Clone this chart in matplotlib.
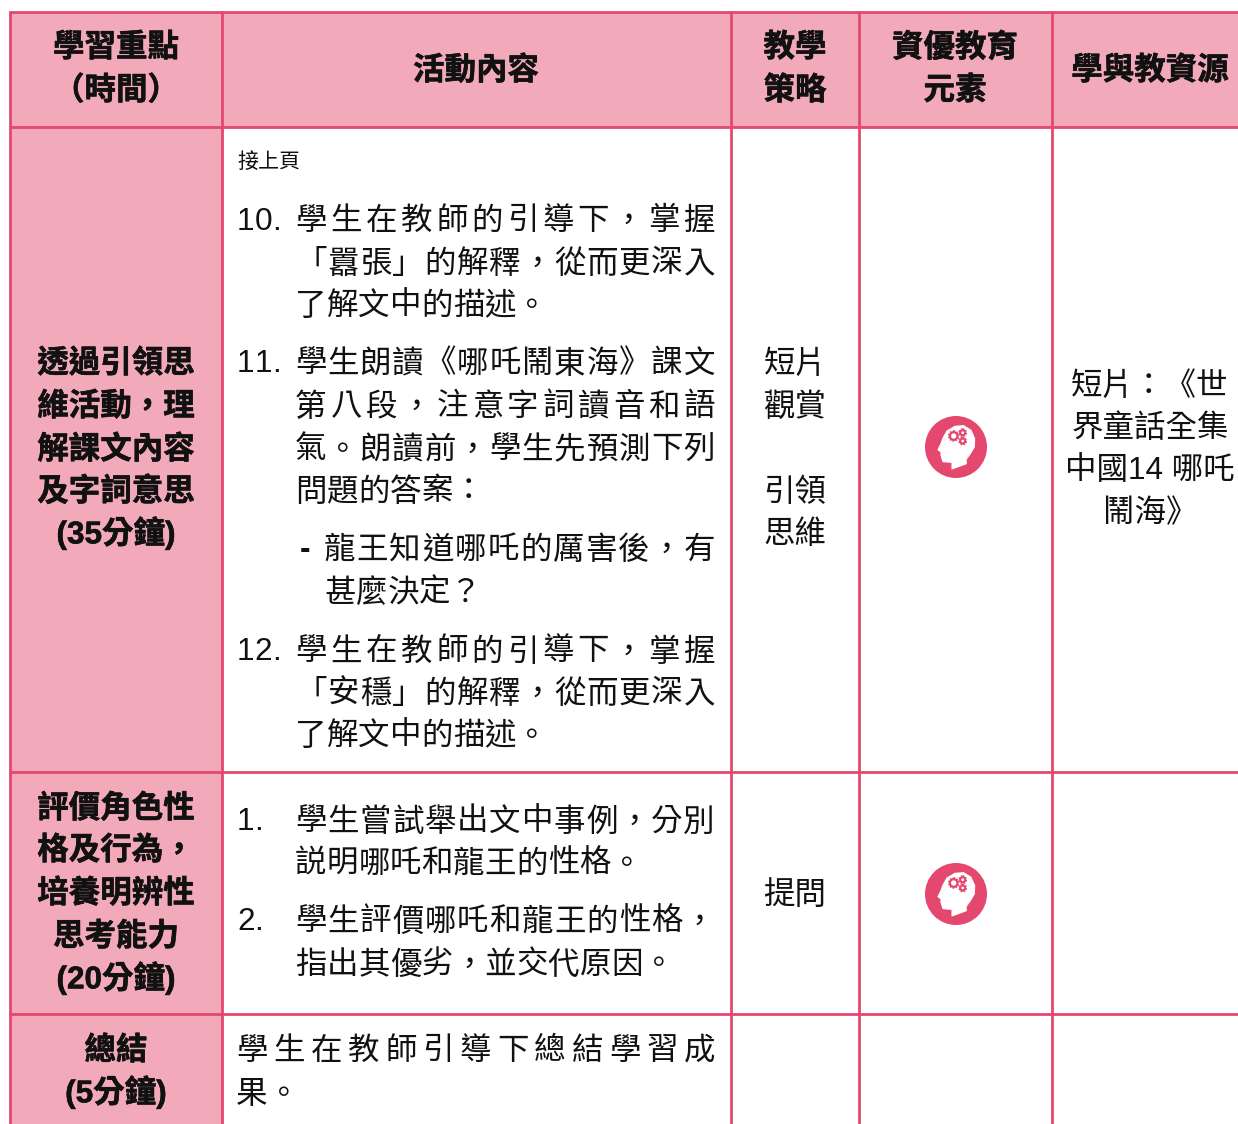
import matplotlib
matplotlib.use("Agg")
import numpy as np
import matplotlib.pyplot as plt
import matplotlib.patheffects as pe
from matplotlib.patches import Circle, Polygon, Rectangle

W, H = 1238, 1124
PINK = "#E5486E"
FILL = "#F2A9BA"
INK = "#111111"
FONT = ["Liberation Sans", "Noto Sans CJK TC"]
BODY_PX = 31.5
ADVANCE = 31.6
DIGIT = 17.6
DY = 3.5  # va=center sits a little high for this font

# table content
column_headers = [["學習重點", "（時間）"], ["活動內容"], ["教學", "策略"], ["資優教育", "元素"], ["學與教資源"]]
topic_1 = ["透過引領思", "維活動，理", "解課文內容", "及字詞意思", "(35分鐘)"]
topic_2 = ["評價角色性", "格及行為，", "培養明辨性", "思考能力", "(20分鐘)"]
topic_3 = ["總結", "(5分鐘)"]
continued_note = "接上頁"
step_10 = ["學生在教師的引導下，掌握", "「囂張」的解釋，從而更深入", "了解文中的描述。"]
step_11 = ["學生朗讀《哪吒鬧東海》課文", "第八段，注意字詞讀音和語", "氣。朗讀前，學生先預測下列", "問題的答案："]
step_11_bullet = ["龍王知道哪吒的厲害後，有", "甚麼決定？"]
step_12 = ["學生在教師的引導下，掌握", "「安穩」的解釋，從而更深入", "了解文中的描述。"]
step_1 = ["學生嘗試舉出文中事例，分別", "説明哪吒和龍王的性格。"]
step_2 = ["學生評價哪吒和龍王的性格，", "指出其優劣，並交代原因。"]
summary = ["學生在教師引導下總結學習成", "果。"]
strategy_1 = ["短片", "觀賞"]
strategy_2 = ["引領", "思維"]
strategy_3 = ["提問"]
resources = ["短片：《世", "界童話全集", "中國14 哪吒", "鬧海》"]

# layout
col_x = [10, 222, 731, 859, 1052, W + 5]
row_y = [12, 127, 772, 1014, H + 5]

fig = plt.figure(figsize=(W / 100, H / 100), dpi=100)
ax = fig.add_axes([0, 0, 1, 1])
ax.set_xlim(0, W)
ax.set_ylim(H, 0)
ax.axis("off")


def px(size):
    return size * 72 / 100


def centered(lines, cx, ys, bold=False):
    for line, y in zip(lines, ys):
        t = ax.text(cx, y + DY, line, ha="center", va="center", fontsize=px(BODY_PX), color=INK,
                    family=FONT, fontweight="bold" if bold else "normal")
        if bold:
            # the original bold is heavier than Noto's
            t.set_path_effects([pe.withStroke(linewidth=0.4, foreground=INK)])


def spaced(line, x0, y, x1=None):
    # one glyph per cell; with x1 the last glyph ends on the right edge
    step = ADVANCE if x1 is None else (x1 - x0 - ADVANCE) / (len(line) - 1)
    for i, ch in enumerate(line):
        ax.text(x0 + ADVANCE / 2 + i * step, y + DY, ch, ha="center", va="center",
                fontsize=px(BODY_PX), color=INK, family=FONT)


def paragraph(lines, x0, ys, x1=715):
    for i, (line, y) in enumerate(zip(lines, ys)):
        spaced(line, x0, y, x1 if i < len(lines) - 1 else None)


def number(label, y):
    # digit by digit, otherwise the font kerns "11." too tight
    for i, ch in enumerate(label):
        ax.text(237 + i * DIGIT, y + DY, ch, ha="left", va="center", fontsize=px(BODY_PX),
                color=INK, family=FONT)


def brain_icon(cx, cy):
    ax.add_patch(Circle((cx, cy), 31, fc=PINK, ec="none", zorder=3))
    head = [(-13, -9), (-9, -16), (-1, -20.7), (7.7, -21.3), (15, -16.7), (18.7, -8.3), (18.3, 0),
            (14.3, 6.7), (10, 12.7), (10.3, 16.7), (-4, 22), (-4, 15.3), (-13, 14.7), (-15, 8.3),
            (-15, 5), (-18, 2.7), (-15, -3.3)]
    ax.add_patch(Polygon([(cx + a, cy + b) for a, b in head], closed=True, fc="white", ec="white",
                         lw=0.8, joinstyle="round", zorder=4))
    for a, b, r in [(-2.3, -11, 3.8), (6.7, -14.3, 2.5), (6.7, -6, 2.5)]:
        ax.add_patch(Circle((cx + a, cy + b), r, fc="white", ec=PINK, lw=1.6, zorder=5))
        ax.add_patch(Circle((cx + a, cy + b), r + 1.2, fc="none", ec=PINK, lw=1.1,
                            ls=(0, (1, 1)), zorder=5))


# pink first column and header band
ax.add_patch(Rectangle((col_x[0], row_y[0]), col_x[1] - col_x[0], H, fc=FILL, ec="none"))
ax.add_patch(Rectangle((col_x[0], row_y[0]), W, row_y[1] - row_y[0], fc=FILL, ec="none"))

for x in col_x[:-1]:
    ax.plot([x, x], [row_y[0] - 1, H + 5], color=PINK, lw=2.0, solid_capstyle="butt")
for y in row_y[:-1]:
    ax.plot([col_x[0] - 1, W + 5], [y, y], color=PINK, lw=2.0, solid_capstyle="butt")

# header row
centered(column_headers[0], 116, [45, 88], bold=True)
centered(column_headers[1], 476, [68], bold=True)
centered(column_headers[2], 795, [45, 88], bold=True)
centered(column_headers[3], 955, [45, 88], bold=True)
centered(column_headers[4], 1150, [68], bold=True)

# first column, the lines with brackets centre lower so they get pulled up
centered(topic_1, 116, [361, 404, 447, 489, 530], bold=True)
centered(topic_2, 116, [806, 848, 891, 934, 975], bold=True)
centered(topic_3, 116, [1048, 1089], bold=True)

# activities
ax.text(237, 160 + 2, continued_note, ha="left", va="center", fontsize=px(21), color=INK, family=FONT)
number("10.", 218)
paragraph(step_10, 295, [218, 261, 303])
number("11.", 361)
paragraph(step_11, 295, [361, 404, 447, 489])
ax.text(300, 547 + DY, "-", ha="left", va="center", fontsize=px(BODY_PX), color=INK, family=FONT,
        fontweight="bold")
paragraph(step_11_bullet, 324, [547, 590])
number("12.", 649)
paragraph(step_12, 295, [649, 691, 733])
number("1.", 819)
paragraph(step_1, 295, [819, 861])
number("2.", 919)
paragraph(step_2, 295, [919, 962])
paragraph(summary, 236, [1048, 1091])

# strategy, icons, resources
centered(strategy_1, 795, [361, 404])
centered(strategy_2, 795, [489, 532])
centered(strategy_3, 795, [892])
brain_icon(956, 447)
brain_icon(956, 894)
centered(resources, 1150, [383, 425, 468, 511])

fig.savefig("out.png", dpi=100)
